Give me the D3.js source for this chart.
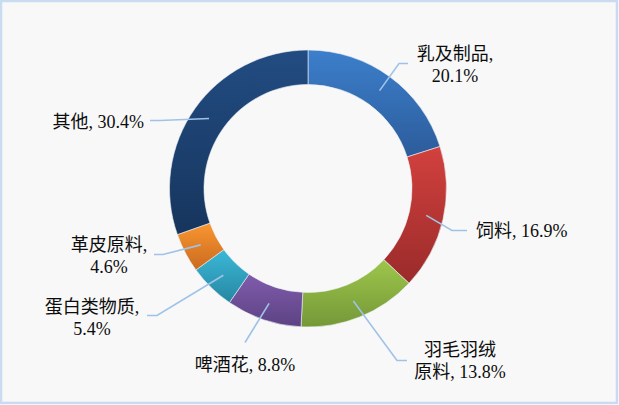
<!DOCTYPE html>
<html>
<head>
<meta charset="utf-8">
<script src="https://cdn.jsdelivr.net/npm/d3@7"></script>
<style>
  html, body { margin: 0; padding: 0; background: #ffffff; }
  svg { display: block; }
</style>
</head>
<body>
<div id="wrapper"></div>
<script>
// data
const categories = ["乳及制品", "饲料", "羽毛羽绒原料", "啤酒花", "蛋白类物质", "革皮原料", "其他"];
const shares = [20.1, 16.9, 13.8, 8.8, 5.4, 4.6, 30.4];
// label text lines per slice (as printed on the chart)
const labelLines = [
    ["乳及制品,", "20.1%"],
    ["饲料, 16.9%"],
    ["羽毛羽绒", "原料, 13.8%"],
    ["啤酒花, 8.8%"],
    ["蛋白类物质,", "5.4%"],
    ["革皮原料,", "4.6%"],
    ["其他, 30.4%"]
];

// colours (top, bottom of each slice gradient)
const sliceColors = [
    ["#3c7fcb", "#2c5c9b"],
    ["#d2413e", "#9a2b2a"],
    ["#9dc64b", "#759838"],
    ["#805cac", "#5c4283"],
    ["#3bb8d8", "#2687a1"],
    ["#f99631", "#ca6a1f"],
    ["#224c82", "#16355d"]
];

// label layout: leader elbow, leader end, text anchor, first baseline (offsets from centre)
const labelLayout = [
    { elbow: [91, -125], end: [100, -125], anchor: "middle", tx: 147, ty: -129 },
    { elbow: [144, 42], end: [159, 42], anchor: "start", tx: 168, ty: 48 },
    { elbow: [89, 172], end: [99, 172], anchor: "middle", tx: 152, ty: 167 },
    { elbow: [-63, 154], end: [-63, 154], anchor: "middle", tx: -63, ty: 182 },
    { elbow: [-151, 127], end: [-161, 127], anchor: "middle", tx: -216, ty: 124 },
    { elbow: [-145, 66], end: [-154, 66], anchor: "middle", tx: -199, ty: 62 },
    { elbow: [-148, -68], end: [-158, -68], anchor: "end", tx: -164, ty: -61 }
];

const dimension = { width: 619, height: 405 };
const centre = { x: 308, y: 188.5 };
const outerR = 138.5, innerR = 104;
const lineGap = 22;

const svg = d3.select("#wrapper").append("svg")
    .attr("width", dimension.width)
    .attr("height", dimension.height);

// frame
svg.append("rect")
    .attr("x", 1).attr("y", 1)
    .attr("width", dimension.width - 3).attr("height", dimension.height - 3)
    .attr("fill", "#f8f8f8")
    .attr("stroke", "#c9dbf1")
    .attr("stroke-width", 2.5);

const defs = svg.append("defs");
sliceColors.forEach((c, i) => {
    const g = defs.append("linearGradient")
        .attr("id", "grad" + i)
        .attr("x1", 0).attr("y1", 0).attr("x2", 0).attr("y2", 1);
    g.append("stop").attr("offset", "0%").attr("stop-color", c[0]);
    g.append("stop").attr("offset", "100%").attr("stop-color", c[1]);
});

const pie = d3.pie().sort(null).value(d => d);
const arcs = pie(shares);

const arc = d3.arc().innerRadius(innerR).outerRadius(outerR);

const bounded = svg.append("g")
    .attr("transform", `translate(${centre.x},${centre.y})`);

bounded.selectAll("path.slice")
    .data(arcs)
    .join("path")
    .attr("class", "slice")
    .attr("d", arc)
    .attr("fill", (d, i) => `url(#grad${i})`)
    .attr("stroke", "#eef2f8")
    .attr("stroke-width", 0.6);

// leader lines
bounded.selectAll("polyline.leader")
    .data(arcs)
    .join("polyline")
    .attr("class", "leader")
    .attr("points", (d, i) => {
        const c = arc.centroid(d);
        const l = labelLayout[i];
        return [c, l.elbow, l.end].map(p => p.join(",")).join(" ");
    })
    .attr("fill", "none")
    .attr("stroke", "#9fc3e8")
    .attr("stroke-width", 1.6);

// labels
const labels = bounded.selectAll("text.label")
    .data(arcs)
    .join("text")
    .attr("class", "label")
    .attr("text-anchor", (d, i) => labelLayout[i].anchor)
    .attr("font-family", "'Liberation Serif', 'Noto Sans CJK SC', serif")
    .attr("font-size", 18)
    .attr("fill", "#0d0d0d");

labels.each(function (d, i) {
    const l = labelLayout[i];
    d3.select(this).selectAll("tspan")
        .data(labelLines[i])
        .join("tspan")
        .attr("x", l.tx)
        .attr("y", (t, j) => l.ty + j * lineGap)
        .text(t => t);
});
</script>
</body>
</html>
